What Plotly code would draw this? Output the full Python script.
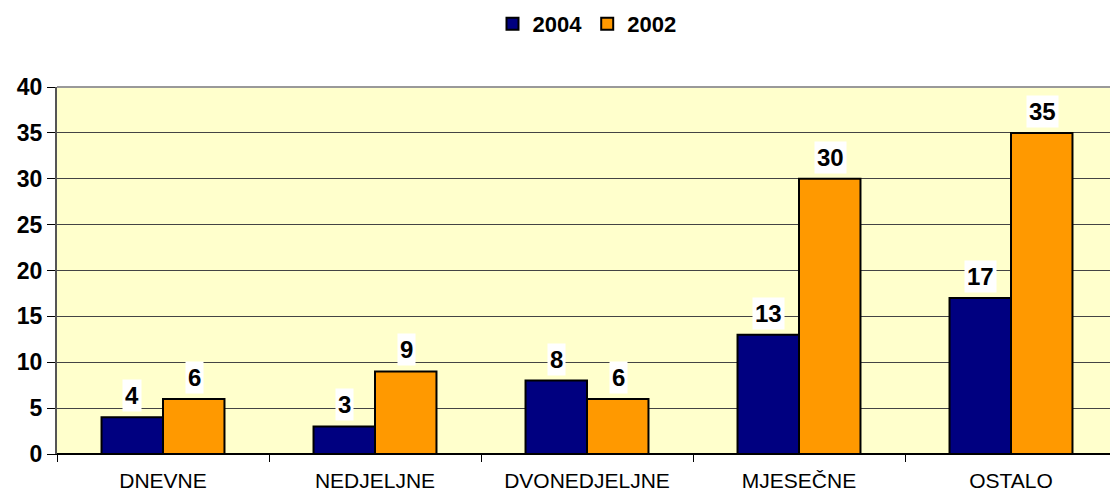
import plotly.graph_objects as go

categories = ["DNEVNE", "NEDJELJNE", "DVONEDJELJNE", "MJESEČNE", "OSTALO"]
values_2004 = [4, 3, 8, 13, 17]
values_2002 = [6, 9, 6, 30, 35]
y_ticks = [0, 5, 10, 15, 20, 25, 30, 35, 40]

series = [("2004", values_2004, "#000080", -31), ("2002", values_2002, "#FF9900", 31)]
FONT = "Liberation Sans, Arial, sans-serif"

fig = go.Figure()
for name, vals, color, _ in series:
    fig.add_trace(go.Bar(
        x=categories, y=vals, name=f"<b>{name}</b>",
        marker=dict(color=color, line=dict(color="black", width=2)),
    ))

# data labels with white background, as in the original
annotations = []
for name, vals, color, shift in series:
    for cat, v in zip(categories, vals):
        annotations.append(dict(
            x=cat, y=v, xref="x", yref="y", text=f"<b>{v}</b>",
            showarrow=False, xshift=shift, yanchor="bottom", yshift=5,
            bgcolor="white", borderpad=2,
            font=dict(family=FONT, size=24, color="black"),
        ))

# the page body adds an 8px offset, so margins are trimmed to compensate
fig.update_layout(
    width=1110, height=485,
    barmode="group", bargap=0.42, bargroupgap=0,
    plot_bgcolor="#FFFFCC", paper_bgcolor="white",
    margin=dict(l=49, r=1, t=79, b=39, autoexpand=False),
    font=dict(family=FONT, color="black"),
    showlegend=True,
    legend=dict(
        orientation="h", x=0.5, xanchor="center", y=1.172, yanchor="middle",
        font=dict(size=22, family=FONT),
        traceorder="normal", itemwidth=30,
    ),
    annotations=annotations,
    shapes=[dict(type="line", xref="paper", yref="paper", x0=0, x1=1, y0=1, y1=1,
                 line=dict(color="#999999", width=2))],
)
fig.update_xaxes(
    showline=True, linecolor="black", linewidth=1,
    ticks="outside", tickson="boundaries", ticklen=7, tickcolor="black",
    tickfont=dict(size=21), ticklabelstandoff=8,
)
fig.update_yaxes(
    range=[0, 40], tickvals=y_ticks, ticktext=[f"<b>{t}</b>" for t in y_ticks],
    showline=True, linecolor="#555555", linewidth=2,
    showgrid=True, gridcolor="#444444", gridwidth=1,
    zeroline=True, zerolinecolor="black",
    ticks="outside", ticklen=8, tickcolor="black",
    tickfont=dict(size=23),
)

fig.write_html("out.html")
